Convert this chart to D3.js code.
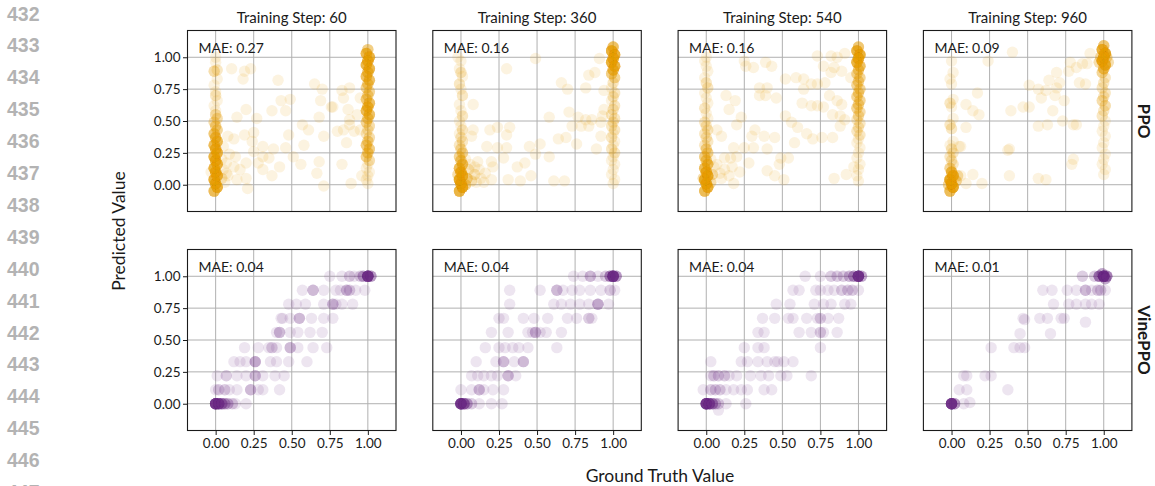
<!DOCTYPE html>
<html>
<head>
<meta charset="utf-8">
<script src="https://cdn.jsdelivr.net/npm/d3@7"></script>
<style>
  body { margin: 0; background: #fff; }
  text { font-family: Lato, "Open Sans", sans-serif; fill: #1a1a1a; }
  .lineno { font-family: "Liberation Sans", Arial, sans-serif; font-weight: bold; fill: #b3b3b3; }
</style>
</head>
<body>
<div id="chart"></div>
<script>
// ---- data ----
var steps = [60, 360, 540, 960];
var methods = ["PPO", "VinePPO"];
var maePPO = [0.27, 0.16, 0.16, 0.09];
var maeVine = [0.04, 0.04, 0.04, 0.01];
var tickValues = [0, 0.25, 0.5, 0.75, 1];
var lineNumbers = [432, 433, 434, 435, 436, 437, 438, 439, 440, 441, 442, 443, 444, 445, 446, 447];

// points: [ground truth, predicted, number of overlapping samples]
var ppo60 = [
  [-0.01,-0.05,8],[0.01,-0.02,11],[0,0.01,11],[-0.01,0.04,11],[0.01,0.07,11],[0,0.10,11],[-0.01,0.13,10],[0.01,0.16,10],
  [0,0.19,10],[-0.01,0.22,10],[0.01,0.25,10],[0,0.28,9],[-0.01,0.31,8],[0.01,0.34,8],[0,0.37,7],[-0.01,0.40,6],
  [0.01,0.43,4],[0,0.46,4],[-0.01,0.49,3],[0.01,0.52,3],[0,0.55,3],[0,0.58,1],[-0.01,0.62,1],[0.01,0.66,1],
  [0,0.70,2],[0,0.73,1],[-0.01,0.78,1],[0.01,0.83,1],[-0.01,0.89,3],[0.01,0.90,2],[0,0.96,1],[0,1.0,1],
  [0.04,0.05,2],[0.05,0.12,1],[0.04,0.2,1],[0.05,0.3,1],[-0.03,0.1,1],[0.06,0.02,1],
  [1,1.06,5],[0.99,1.03,9],[1.01,1.0,10],[1,0.97,10],[0.99,0.94,9],[1.01,0.91,9],[1,0.88,7],[0.99,0.85,7],
  [1.01,0.82,7],[1,0.79,5],[0.99,0.76,4],[1.01,0.73,4],[1,0.70,4],[0.99,0.67,5],[1.01,0.64,7],[1,0.61,8],
  [0.99,0.58,8],[1.01,0.55,7],[1,0.52,5],[0.99,0.49,4],[1.01,0.46,3],[1,0.43,2],[0.99,0.40,2],[1.01,0.37,3],
  [1,0.34,4],[0.99,0.31,5],[1.01,0.28,5],[1,0.25,5],[0.99,0.22,4],[1.01,0.19,3],[1,0.16,1],[0.99,0.13,1],
  [1.01,0.10,1],[1,0.07,1],[0.99,0.04,1],[1,0.01,1],
  [0.105,0.91],[0.19,0.89],[0.23,0.91],[0.18,0.83],[0.41,0.82],[0.65,0.79],[0.70,0.75],[0.83,0.74],[0.88,0.76],
  [0.69,0.66],[0.84,0.68],[0.43,0.66],[0.49,0.67],[0.46,0.58],[0.20,0.59],[0.37,0.58],[0.76,0.61],[0.77,0.61],
  [0.87,0.59],[0.14,0.53],[0.27,0.52],[0.68,0.53],[0.88,0.51],[0.57,0.47],[0.88,0.47],[0.08,0.38],[0.12,0.36],
  [0.19,0.39],[0.25,0.41],[0.24,0.34],[0.48,0.39],[0.61,0.43],[0.71,0.38],[0.80,0.42],[0.84,0.43],[0.91,0.42],
  [0.95,0.43],[0.86,0.33],[0.31,0.30],[0.38,0.28],[0.46,0.29],[0.31,0.22],[0.35,0.21],[0.51,0.22],[0.07,0.17],
  [0.12,0.14],[0.16,0.12],[0.20,0.17],[0.28,0.17],[0.31,0.12],[0.42,0.14],[0.56,0.16],[0.68,0.18],[0.83,0.16],
  [0.37,0.07],[0.20,0.05],[0.14,0.04],[0.21,-0.03],[0.665,0.09],[0.71,-0.01],[0.89,0.01],[0.96,0.07],[0.08,0.07],
  [0.07,0.09],[0.09,0.24],[0.13,0.22],[0.25,0.26],[0.58,0.31],[0.93,0.55],[0.95,0.68]
];

var ppo360 = [
  [-0.01,-0.05,10],[0.01,-0.02,13],[0,0.01,13],[-0.01,0.04,13],[0.01,0.07,11],[0,0.10,10],[-0.01,0.13,8],[0.01,0.16,7],
  [0,0.19,5],[-0.01,0.22,4],[0.01,0.25,4],[0,0.28,3],[-0.01,0.31,2],[0.01,0.34,2],[0,0.37,2],[-0.01,0.40,1],
  [0.01,0.43,2],[0,0.46,1],[-0.01,0.50,1],[0.01,0.54,2],[0,0.58,1],[-0.01,0.63,1],[0.01,0.70,2],[0,0.75,1],
  [-0.01,0.79,2],[0.01,0.85,1],[0,0.88,2],[-0.01,0.91,1],[0,0.97,1],[-0.02,1.0,1],
  [0.03,0.0,4],[0.04,0.05,4],[-0.02,0.08,3],[0.05,0.12,2],[0.07,0.03,2],[0.09,0.08,2],[0.1,0.02,1],[0.06,0.16,1],[0.03,0.2,1],
  [1,1.08,7],[0.99,1.05,11],[1.01,1.02,11],[1,0.99,11],[0.99,0.96,11],[1.01,0.93,10],[1,0.90,8],[0.99,0.87,5],
  [1.01,0.84,4],[1,0.80,2],[0.99,0.76,1],[1.01,0.72,2],[1,0.69,2],[0.99,0.66,1],[1.01,0.62,2],[1,0.59,2],
  [0.99,0.55,2],[1.01,0.52,2],[1,0.49,2],[0.99,0.46,2],[1.01,0.43,2],[1,0.40,1],[0.99,0.37,2],[1.01,0.34,1],
  [1,0.31,1],[0.99,0.28,2],[1.01,0.25,2],[1,0.22,1],[0.99,0.19,1],[1.01,0.16,1],[1,0.12,1],[0.99,0.08,1],
  [1.01,0.04,1],[1,0.01,1],
  [0.91,0.99],[0.88,0.88],[0.84,0.86],[0.94,0.74],[0.94,0.59],[0.93,0.54],
  [0.49,0.99],[0.30,0.91],[0.66,0.80],[0.70,0.75],[0.82,0.76],[0.08,0.63],[0.58,0.53],[0.71,0.57],[0.77,0.53],
  [0.82,0.51],[0.86,0.51],[0.73,0.46],[0.79,0.46],[0.84,0.46],[0.92,0.49],[0.92,0.38],[0.19,0.43],[0.24,0.45],
  [0.32,0.45],[0.30,0.39],[0.08,0.43],[0.07,0.38],[0.17,0.30],[0.24,0.29],[0.30,0.29],[0.45,0.30],[0.52,0.32],
  [0.64,0.36],[0.69,0.37],[0.76,0.32],[0.49,0.24],[0.58,0.22],[0.89,0.28],[0.20,0.18],[0.28,0.21],[0.21,0.14],
  [0.37,0.14],[0.42,0.17],[0.16,0.09],[0.20,0.04],[0.31,0.04],[0.39,0.03],[0.46,0.07],[0.61,0.03],[0.68,0.03],
  [0.12,0.12],[0.09,0.14],[0.13,0.05],[0.15,0.02],[0.11,0.18]
];

var ppo540 = [
  [-0.01,-0.05,8],[0.01,-0.02,11],[0,0.01,11],[-0.01,0.04,11],[0.01,0.07,11],[0,0.10,10],[-0.01,0.13,8],[0.01,0.16,7],
  [0,0.19,5],[-0.01,0.22,5],[0.01,0.25,4],[0,0.28,4],[-0.01,0.31,2],[0.01,0.34,2],[0,0.37,2],[-0.01,0.40,2],
  [0.01,0.43,2],[0,0.46,2],[-0.01,0.49,2],[0.01,0.52,1],[0,0.56,1],[-0.01,0.60,2],[0.01,0.64,1],[0,0.68,1],
  [-0.01,0.72,1],[0.01,0.76,2],[0,0.80,2],[-0.01,0.84,1],[0.01,0.89,1],[0,0.93,1],[-0.01,0.97,1],[0,1.0,1],
  [0.03,0.02,3],[0.04,0.08,3],[-0.02,0.05,3],[0.05,0.14,1],[0.03,0.2,1],
  [1,1.08,6],[0.99,1.05,10],[1.01,1.02,11],[1,0.99,11],[0.99,0.96,10],[1.01,0.93,7],[1,0.90,5],[0.99,0.87,4],
  [1.01,0.84,4],[1,0.81,4],[0.99,0.78,4],[1.01,0.75,4],[1,0.72,4],[0.99,0.69,4],[1.01,0.66,4],[1,0.63,4],
  [0.99,0.60,4],[1.01,0.57,3],[1,0.54,3],[0.99,0.51,2],[1.01,0.48,2],[1,0.45,2],[0.99,0.42,2],[1.01,0.39,2],
  [1,0.36,1],[0.99,0.33,1],[1.01,0.29,1],[1,0.25,1],[0.99,0.21,1],[1.01,0.16,1],[1,0.12,1],[0.99,0.07,1],[1,0.03,1],
  [0.25,0.97],[0.26,0.93],[0.31,0.92],[0.39,0.96],[0.43,0.93],[0.52,0.83],[0.59,0.84],[0.64,0.83],[0.69,0.79],
  [0.73,0.79],[0.64,0.75],[0.73,1.01],[0.82,1.01],[0.86,1.0],[0.91,1.03],[0.77,0.93],[0.84,0.92],[0.89,0.89],
  [0.82,0.88],[0.35,0.76],[0.40,0.76],[0.35,0.70],[0.39,0.70],[0.46,0.68],[0.13,0.70],[0.19,0.66],[0.15,0.59],
  [0.23,0.53],[0.20,0.47],[0.07,0.43],[0.10,0.38],[0.52,0.54],[0.56,0.49],[0.63,0.64],[0.69,0.62],[0.73,0.62],
  [0.77,0.61],[0.81,0.70],[0.86,0.66],[0.89,0.63],[0.83,0.55],[0.88,0.54],[0.88,0.46],[0.91,0.51],[0.32,0.43],
  [0.30,0.38],[0.38,0.38],[0.45,0.37],[0.58,0.33],[0.70,0.36],[0.76,0.37],[0.83,0.37],[0.18,0.29],[0.25,0.29],
  [0.31,0.29],[0.40,0.28],[0.12,0.21],[0.16,0.21],[0.20,0.22],[0.28,0.17],[0.49,0.21],[0.54,0.21],[0.48,0.16],
  [0.40,0.11],[0.45,0.07],[0.51,0.04],[0.17,0.14],[0.15,0.07],[0.18,0.01],[0.09,0.09],[0.84,0.05],[0.92,0.08],
  [0.97,0.14],[0.12,0.12],[0.07,0.16],[0.10,0.05],[0.22,0.10],[0.60,0.45],[0.66,0.40],[0.78,0.80],[0.95,0.84]
];

var ppo960 = [
  [-0.01,-0.05,8],[0.01,-0.02,13],[0,0.01,14],[-0.01,0.04,14],[0.01,0.07,12],[0,0.10,8],[-0.01,0.13,4],[0.01,0.16,2],
  [0,0.19,2],[-0.01,0.22,2],[0.01,0.25,2],[0,0.28,2],[-0.01,0.31,1],[0.01,0.34,1],[0,0.44,2],[-0.01,0.47,2],
  [0.01,0.52,1],[0,0.61,1],[-0.01,0.64,2],[0.01,0.67,1],[0,0.79,1],[-0.01,0.83,1],[0.01,0.88,1],[0,0.97,1],
  [0.03,0.03,4],[-0.02,0.0,4],[0.04,0.07,3],
  [1,1.09,6],[0.99,1.06,11],[1.01,1.03,14],[1,1.0,14],[0.99,0.97,14],[1.01,0.94,11],[1,0.91,7],[0.99,0.88,4],
  [0.98,1.0,4],[1.02,1.0,4],[0.97,0.96,3],[1.03,0.96,3],
  [1.01,0.84,2],[1,0.80,2],[0.99,0.76,2],[1.01,0.72,2],[1,0.69,2],[0.99,0.66,3],[1.01,0.62,3],[1,0.58,2],
  [0.99,0.54,2],[1.01,0.50,1],[1,0.46,1],[0.99,0.42,1],[1.01,0.38,1],[1,0.33,1],[0.99,0.29,1],[1.01,0.24,1],
  [1,0.20,1],[0.99,0.16,1],[1.01,0.12,1],[1,0.08,1],
  [0.24,0.97],[0.40,1.04],[0.17,0.72],[0.095,0.63],[0.14,0.58],[0.18,0.55],[0.095,0.45],[0.06,0.30],[0.38,0.28],
  [0.39,0.58],[0.47,0.61],[0.51,0.61],[0.57,0.46],[0.63,0.47],[0.665,0.58],[0.73,0.50],[0.80,0.47],[0.82,0.47],
  [0.57,0.75],[0.51,0.78],[0.59,0.68],[0.64,0.82],[0.69,0.88],[0.69,0.76],[0.71,0.80],[0.68,0.70],[0.77,0.89],
  [0.82,0.92],[0.86,0.95],[0.89,0.95],[0.91,1.03],[0.84,0.80],[0.88,0.79],[0.78,0.96],[0.38,0.07],[0.57,0.05],
  [0.62,0.04],[0.80,0.20],[0.79,0.16],[0.06,0.07],[0.095,0.01],[0.14,0.08],[0.20,0.01],[0.05,0.30],[0.37,0.27],
  [0.62,0.74],[0.74,0.66]
];

var vine60 = [
  [0.75,1],[0.83,1],[0.88,1,2],[0.91,1],[0.95,1,2],[0.97,1,4],[1,1,18],[1.02,1,5],
  [0.57,0.89],[0.64,0.89,3],[0.71,0.89],[0.79,0.89],[0.82,0.89],[0.86,0.89,3],[0.88,0.89,2],[0.92,0.89],[0.98,0.89],
  [0.48,0.78],[0.53,0.78],[0.59,0.78],[0.71,0.78],[0.77,0.78,3],[0.79,0.78],[0.83,0.78],[0.90,0.78],
  [0.43,0.67],[0.44,0.67],[0.49,0.67],[0.55,0.67,3],[0.63,0.67],[0.71,0.67],[0.77,0.67],
  [0.40,0.56],[0.42,0.56,3],[0.49,0.56],[0.54,0.56],[0.62,0.56],[0.70,0.56],
  [0.19,0.44],[0.28,0.44],[0.35,0.44],[0.37,0.44,2],[0.40,0.44],[0.49,0.44,3],[0.54,0.44],[0.64,0.44],[0.73,0.44],
  [0.12,0.33],[0.16,0.33],[0.20,0.33],[0.26,0.33,4],[0.36,0.33],[0.40,0.33],[0.48,0.33],[0.60,0.33],
  [0.01,0.22],[0.07,0.22,2],[0.14,0.22],[0.20,0.22],[0.26,0.22,3],[0.31,0.22],[0.39,0.22],[0.45,0.22],
  [0.0,0.11],[0.02,0.11,2],[0.06,0.11,2],[0.09,0.11],[0.14,0.11],[0.23,0.11,3],[0.28,0.11],[0.31,0.11],[0.42,0.11],
  [0,0,20],[0.02,0,12],[0.04,0,7],[0.06,0,4],[0.08,0,3],[0.11,0,2],[0.13,0],[0.20,0]
];

var vine360 = [
  [0.74,1],[0.80,1],[0.85,1,3],[0.90,1],[0.95,1,2],[0.98,1,6],[1,1,18],[1.02,1,5],
  [0.32,0.89],[0.52,0.89],[0.63,0.89,3],[0.67,0.89],[0.73,0.89],[0.78,0.89],[0.85,0.89],[0.92,0.89],[0.98,0.89,2],[1.01,0.89],
  [0.32,0.78],[0.61,0.78],[0.66,0.78],[0.72,0.78],[0.78,0.78],[0.84,0.78],[0.90,0.78,4],[0.97,0.78],
  [0.25,0.67],[0.28,0.67],[0.41,0.67],[0.48,0.67],[0.57,0.67],[0.70,0.67],[0.76,0.67],[0.84,0.67,2],[0.86,0.67],
  [0.20,0.56],[0.31,0.56],[0.44,0.56],[0.47,0.56],[0.49,0.56,3],[0.52,0.56],[0.56,0.56],[0.66,0.56],
  [0.16,0.44],[0.25,0.44],[0.29,0.44],[0.34,0.44],[0.38,0.44],[0.44,0.44],[0.63,0.44],
  [0.10,0.33],[0.23,0.33],[0.28,0.33,3],[0.35,0.33],[0.41,0.33,3],
  [0.07,0.22],[0.11,0.22],[0.15,0.22],[0.20,0.22],[0.24,0.22],[0.31,0.22,3],[0.36,0.22],
  [0.0,0.11],[0.07,0.11],[0.12,0.11,3],[0.15,0.11],[0.21,0.11],[0.28,0.11],
  [0,0,20],[0.02,0,9],[0.04,0,4],[0.07,0,2],[0.12,0],[0.20,0],[0.27,0]
];

var vine540 = [
  [0.65,1],[0.75,1],[0.82,1,2],[0.86,1,2],[0.90,1,2],[0.94,1,3],[0.97,1,5],[1,1,18],[1.02,1,4],
  [0.57,0.89],[0.61,0.89],[0.72,0.89],[0.75,0.89],[0.80,0.89],[0.84,0.89],[0.89,0.89,2],[0.93,0.89,2],[0.96,0.89,2],[1.0,0.89],
  [0.46,0.78],[0.55,0.78],[0.71,0.78],[0.77,0.78],[0.82,0.78],[0.91,0.78],[0.95,0.78],
  [0.37,0.67],[0.45,0.67],[0.54,0.67],[0.57,0.67],[0.66,0.67],[0.73,0.67],[0.75,0.67,2],[0.80,0.67],[0.87,0.67],
  [0.34,0.56],[0.38,0.56],[0.61,0.56],[0.69,0.56],[0.75,0.56,2],[0.77,0.56],[0.86,0.56],
  [0.25,0.44],[0.34,0.44],[0.38,0.44],[0.75,0.44],
  [0.03,0.33],[0.23,0.33],[0.27,0.33],[0.34,0.33],[0.40,0.33],[0.45,0.33],[0.47,0.33],[0.51,0.33],[0.57,0.33],
  [0.03,0.22],[0.05,0.22,2],[0.08,0.22,2],[0.12,0.22,2],[0.15,0.22],[0.20,0.22],[0.29,0.22],[0.36,0.22],[0.41,0.22],[0.49,0.22],[0.53,0.22],[0.69,0.22],
  [-0.02,0.11],[0.03,0.11,2],[0.06,0.11,2],[0.09,0.11,2],[0.13,0.11],[0.18,0.11],[0.23,0.11],[0.27,0.11],[0.38,0.11],[0.43,0.11],
  [0,0,20],[0.02,0,11],[0.04,0,6],[0.06,0,3],[0.08,0,2],[0.13,0],[0.26,0],[0.08,-0.05]
];

var vine960 = [
  [0.86,1,2],[0.94,1,2],[0.97,1,7],[1,1,20],[1.02,1,7],[0.99,1.02,4],[1.01,0.98,4],
  [0.60,0.89],[0.66,0.89],[0.76,0.89],[0.82,0.89],[0.88,0.89,3],[0.92,0.89],[0.96,0.89,2],[0.98,0.89,2],[1.01,0.89],
  [0.67,0.78],[0.77,0.78],[0.82,0.78],[0.88,0.78],[0.92,0.78],[0.97,0.78],
  [0.47,0.67],[0.48,0.66],[0.58,0.67],[0.63,0.67],[0.72,0.67],[0.74,0.67],[0.88,0.64],
  [0.45,0.55],[0.65,0.55],
  [0.26,0.44],[0.41,0.44],[0.45,0.44],[0.48,0.44],
  [0.08,0.22],[0.10,0.22],[0.22,0.22],[0.26,0.22],
  [0.05,0.11],[0.10,0.11],[0.37,0.11],
  [0,0,20],[0.02,0,5],[0.08,0],[0.12,0.01]
];

var ppoPanels = [ppo60, ppo360, ppo540, ppo960];
var vinePanels = [vine60, vine360, vine540, vine960];
var rowColors = ["#E69F00", "#6A2C86"];

// ---- layout ----
var svgWidth = 1155, svgHeight = 486;
var firstLeft = 187.5, colStep = 245.3;
var panelWidth = 208.5, panelHeight = 181;
var rowTops = [30.5, 249.5];

var svg = d3.select("#chart").append("svg")
  .attr("width", svgWidth)
  .attr("height", svgHeight);

// line numbers down the left margin
svg.selectAll(".lineno")
  .data(lineNumbers)
  .enter()
  .append("text")
  .attr("class", "lineno")
  .attr("x", 7)
  .attr("y", (d, i) => 20.5 + i * 31.9)
  .attr("font-size", "19.5px")
  .text(d => d);

var xScale = d3.scaleLinear().domain([-0.185, 1.185]).range([0, panelWidth]);
var yScale = d3.scaleLinear().domain([-0.21, 1.21]).range([panelHeight, 0]);

methods.forEach(function(method, row) {
  var panels = row === 0 ? ppoPanels : vinePanels;
  var maes = row === 0 ? maePPO : maeVine;

  steps.forEach(function(step, col) {
    var g = svg.append("g")
      .attr("transform", `translate(${firstLeft + col * colStep}, ${rowTops[row]})`);

    var clipId = "clip-" + row + "-" + col;
    g.append("clipPath").attr("id", clipId)
      .append("rect").attr("width", panelWidth).attr("height", panelHeight);

    // grid
    g.selectAll(".gx").data(tickValues).enter().append("line")
      .attr("x1", d => xScale(d)).attr("x2", d => xScale(d))
      .attr("y1", 0).attr("y2", panelHeight)
      .attr("stroke", "#b0b0b0").attr("stroke-width", 1);
    g.selectAll(".gy").data(tickValues).enter().append("line")
      .attr("y1", d => yScale(d)).attr("y2", d => yScale(d))
      .attr("x1", 0).attr("x2", panelWidth)
      .attr("stroke", "#b0b0b0").attr("stroke-width", 1);

    // expand counts into single samples
    var samples = [];
    panels[col].forEach(function(p) {
      var n = p.length > 2 ? p[2] : 1;
      for (var k = 0; k < n; k++) samples.push(p);
    });

    g.append("g").attr("clip-path", `url(#${clipId})`)
      .selectAll("circle")
      .data(samples)
      .enter()
      .append("circle")
      .attr("cx", d => xScale(d[0]))
      .attr("cy", d => yScale(d[1]))
      .attr("r", 5.7)
      .attr("fill", rowColors[row])
      .attr("fill-opacity", 0.12);

    // frame
    g.append("rect")
      .attr("width", panelWidth).attr("height", panelHeight)
      .attr("fill", "none").attr("stroke", "#1a1a1a").attr("stroke-width", 1.1);

    g.append("text")
      .attr("x", 11).attr("y", 22.5)
      .attr("font-size", "14px")
      .text("MAE: " + maes[col].toFixed(2));

    if (row === 0) {
      g.append("text")
        .attr("x", panelWidth / 2).attr("y", -8)
        .attr("text-anchor", "middle")
        .attr("font-size", "15px")
        .text("Training Step: " + step);
    }

    if (col === 0) {
      var yAxis = d3.axisLeft(yScale).tickValues(tickValues)
        .tickFormat(d3.format(".2f")).tickSize(4.5).tickPadding(2.5);
      var ya = g.append("g").call(yAxis);
      ya.select(".domain").remove();
      ya.selectAll("text").attr("font-size", "13.5px").style("font-family", "Lato, sans-serif").attr("fill", "#1a1a1a");
      ya.selectAll("line").attr("stroke", "#1a1a1a");
    }

    if (row === 1) {
      var xAxis = d3.axisBottom(xScale).tickValues(tickValues)
        .tickFormat(d3.format(".2f")).tickSize(4.5).tickPadding(3);
      var xa = g.append("g").attr("transform", `translate(0, ${panelHeight})`).call(xAxis);
      xa.select(".domain").remove();
      xa.selectAll("text").attr("font-size", "13.5px").style("font-family", "Lato, sans-serif").attr("fill", "#1a1a1a");
      xa.selectAll("line").attr("stroke", "#1a1a1a");
    }

    if (col === steps.length - 1) {
      svg.append("text")
        .attr("transform", `translate(1144, ${rowTops[row] + panelHeight / 2}) rotate(90)`)
        .attr("text-anchor", "middle")
        .attr("dominant-baseline", "central")
        .attr("font-size", "17px")
        .attr("font-weight", "bold")
        .text(method);
    }
  });
});

// axis titles
svg.append("text")
  .attr("transform", "translate(118, 231) rotate(-90)")
  .attr("text-anchor", "middle")
  .attr("dominant-baseline", "central")
  .attr("font-size", "17.5px")
  .text("Predicted Value");

svg.append("text")
  .attr("x", 660).attr("y", 482)
  .attr("text-anchor", "middle")
  .attr("font-size", "17.5px")
  .text("Ground Truth Value");
</script>
</body>
</html>
